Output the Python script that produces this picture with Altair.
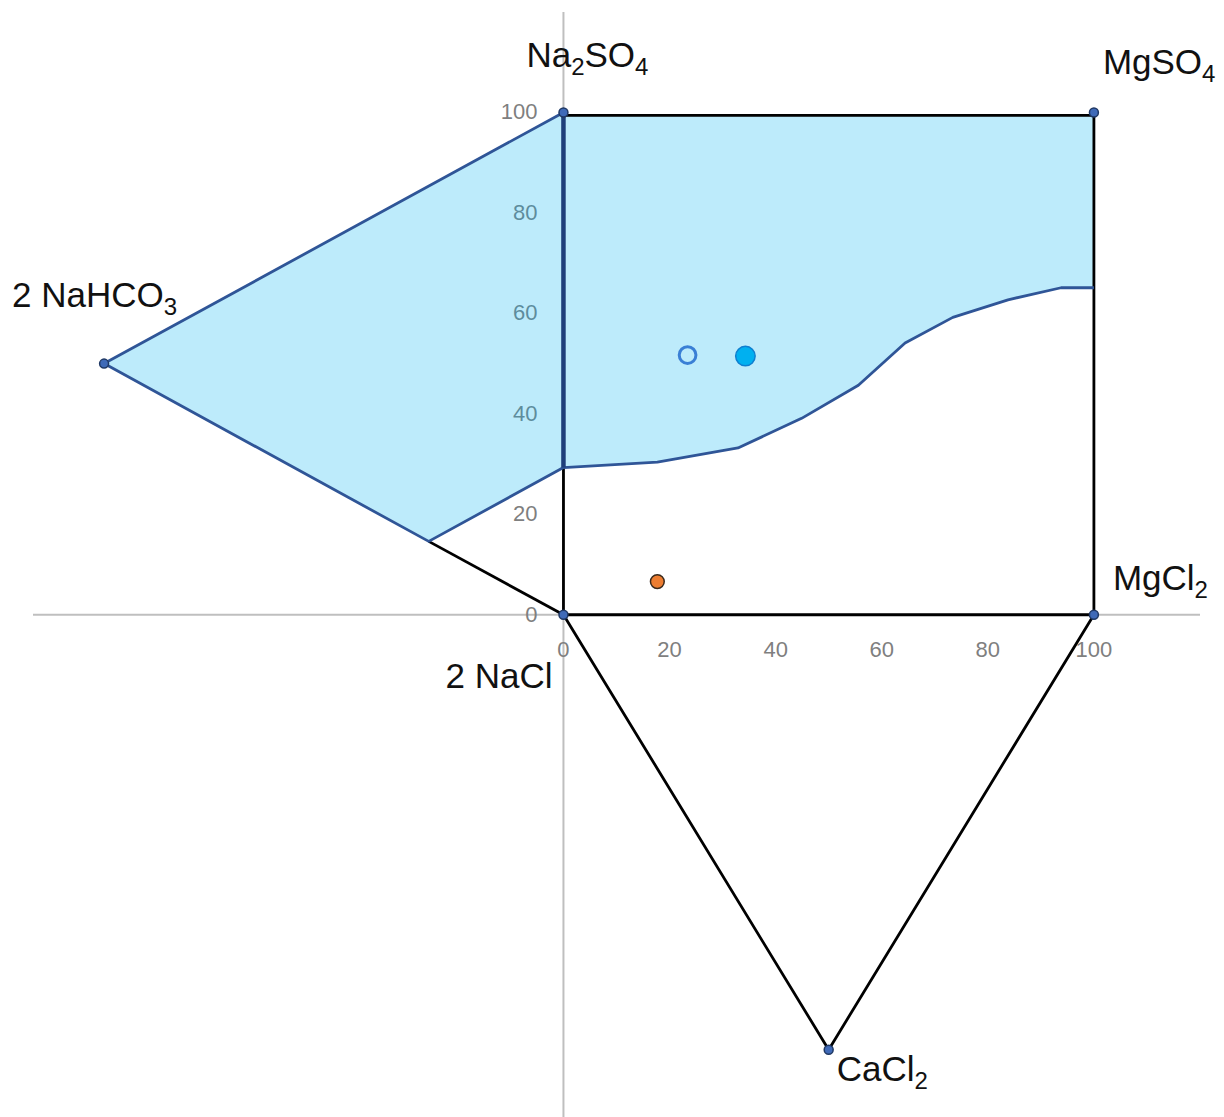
import altair as alt
import pandas as pd

# ---------------- data ----------------
# diagram vertices (salt end-members)
vert_names = ["Na2SO4", "MgSO4", "2 NaHCO3", "2 NaCl", "MgCl2", "CaCl2"]
vert_x = [0, 100, -86.6, 0, 100, 50]
vert_y = [100, 100, 50, 0, 0, -86.6]

# label text pieces: (text, is_subscript)
label_parts = {
    "Na2SO4": [("Na", False), ("2", True), ("SO", False), ("4", True)],
    "MgSO4": [("MgSO", False), ("4", True)],
    "2 NaHCO3": [("2 NaHCO", False), ("3", True)],
    "2 NaCl": [("2 NaCl", False)],
    "MgCl2": [("MgCl", False), ("2", True)],
    "CaCl2": [("CaCl", False), ("2", True)],
}

# lower boundary of the shaded field inside the square (x -> y)
bound_x = [0, 17.7, 32.9, 44.9, 55.6, 64.4, 73.4, 83.8, 93.8, 100]
bound_y = [29.3, 30.4, 33.2, 39.1, 45.7, 54.1, 59.2, 62.7, 65.1, 65.1]
top_y = 99.4

# shaded field in the left triangle
left_x = [-86.6, 0, 0, -25.4]
left_y = [50, 100, 29.3, 14.6]

# sample points
pt_x = [17.7, 23.4, 34.3]
pt_y = [6.6, 51.7, 51.5]
pt_kind = ["orange", "open", "blue"]

# tick labels
tick_vals = [0, 20, 40, 60, 80, 100]

# ---------------- tables ----------------
right_poly = [(0, top_y), (100, top_y)] + list(zip(bound_x[::-1], bound_y[::-1]))
left_poly = list(zip(left_x, left_y))
fill_rows = []
for name, poly in (("L", left_poly), ("R", right_poly)):
    for i, (a, b) in enumerate(poly):
        fill_rows.append({"x": a, "y": b, "i": i, "g": name})
fill_df = pd.DataFrame(fill_rows)

black_segs = {
    "square": [(0, 0), (100, 0), (100, top_y), (0, top_y), (0, 0)],
    "hco3_cl": [(left_x[3], left_y[3]), (vert_x[3], vert_y[3])],
    "tri": [(vert_x[3], vert_y[3]), (vert_x[5], vert_y[5]), (vert_x[4], vert_y[4])],
}
black_rows = []
for k, seg in black_segs.items():
    for i, (a, b) in enumerate(seg):
        black_rows.append({"x": a, "y": b, "i": i, "g": k})
black_df = pd.DataFrame(black_rows)

blue_line = list(zip(bound_x[::-1], bound_y[::-1])) + [(left_x[3], left_y[3]), (left_x[0], left_y[0]), (left_x[1], left_y[1])]
blue_df = pd.DataFrame([{"x": a, "y": b, "i": i, "g": "b"} for i, (a, b) in enumerate(blue_line)])
blue_axis_df = pd.DataFrame({"x": [0, 0], "y": [left_y[2], left_y[1]], "i": [0, 1], "g": ["v", "v"]})

vert_df = pd.DataFrame({"name": vert_names, "x": vert_x, "y": vert_y})
pts_df = pd.DataFrame({"x": pt_x, "y": pt_y, "kind": pt_kind})

xticks_df = pd.DataFrame({"x": tick_vals, "y": [0] * len(tick_vals), "t": [str(v) for v in tick_vals]})
yticks_df = pd.DataFrame({"x": [0] * len(tick_vals), "y": tick_vals, "t": [str(v) for v in tick_vals]})
axes_df = pd.DataFrame({"x": [-100, 0], "x2": [120, 0], "y": [0, -100], "y2": [0, 120]})

# ---------------- encodings ----------------
xs = alt.Scale(domain=[-100, 120], nice=False, zero=False)
ys = alt.Scale(domain=[-100, 120], nice=False, zero=False)
X = alt.X("x:Q", scale=xs, axis=None)
Y = alt.Y("y:Q", scale=ys, axis=None)

FONT = "Liberation Sans"

axes_layer = alt.Chart(axes_df).mark_rule(color="#bfbfbf", strokeWidth=2).encode(
    x=X, x2="x2:Q", y=Y, y2="y2:Q"
)

xtick_layer = alt.Chart(xticks_df).mark_text(
    font=FONT, fontSize=22, color="#7f7f7f", align="center", baseline="middle", dy=35
).encode(x=X, y=Y, text="t:N")
ytick_layer = alt.Chart(yticks_df).mark_text(
    font=FONT, fontSize=22, color="#7f7f7f", align="right", baseline="middle", dx=-26
).encode(x=X, y=Y, text="t:N")

fill_layer = alt.Chart(fill_df).mark_line(
    filled=True, color="#00B0F0", opacity=0.26
).encode(x=X, y=Y, order="i:Q", detail="g:N")

black_layer = alt.Chart(black_df).mark_line(
    color="#000000", strokeWidth=2.8, strokeJoin="round"
).encode(x=X, y=Y, order="i:Q", detail="g:N")

blue_layer = alt.Chart(blue_df).mark_line(
    color="#2F5597", strokeWidth=2.8, strokeJoin="round"
).encode(x=X, y=Y, order="i:Q", detail="g:N")
blue_axis_layer = alt.Chart(blue_axis_df).mark_line(
    color="#1F3F7A", strokeWidth=4.5
).encode(x=X, y=Y, order="i:Q", detail="g:N")

vert_layer = alt.Chart(vert_df).mark_point(
    shape="circle", filled=True, size=80, fill="#3F6AB8", stroke="#1F3864", strokeWidth=1.5, opacity=1
).encode(x=X, y=Y)

orange_layer = alt.Chart(pts_df).transform_filter("datum.kind == 'orange'").mark_point(
    shape="circle", filled=True, size=190, fill="#ED7D31", stroke="#3b2a1c", strokeWidth=1.5, opacity=1
).encode(x=X, y=Y)
open_layer = alt.Chart(pts_df).transform_filter("datum.kind == 'open'").mark_point(
    shape="circle", filled=False, size=280, stroke="#3A7FD5", strokeWidth=3, opacity=1
).encode(x=X, y=Y)
blue_pt_layer = alt.Chart(pts_df).transform_filter("datum.kind == 'blue'").mark_point(
    shape="circle", filled=True, size=380, fill="#00B0F0", stroke="#0F7FCF", strokeWidth=1.5, opacity=1
).encode(x=X, y=Y)

# ---------------- vertex labels with real subscripts ----------------
MAIN_SIZE = 35
SUB_SIZE = 24
SUB_DROP = 8
# Arial / Liberation Sans advance widths (em)
ADV = {"N": 0.722, "a": 0.556, "S": 0.667, "O": 0.778, "M": 0.833, "g": 0.556,
       "C": 0.722, "l": 0.222, "H": 0.722, " ": 0.278, "2": 0.556, "3": 0.556, "4": 0.556}

# label anchor offsets (pixels: left edge, baseline) relative to each vertex
label_offsets = {
    "Na2SO4": (-37, -45),
    "MgSO4": (9, -38),
    "2 NaHCO3": (-92, -57),
    "2 NaCl": (-118, 73),
    "MgCl2": (19, -25),
    "CaCl2": (8, 31),
}

label_layers = []
for nm, (ddx, ddy) in label_offsets.items():
    cursor = 0.0
    for txt, is_sub in label_parts[nm]:
        fs = SUB_SIZE if is_sub else MAIN_SIZE
        label_layers.append(
            alt.Chart(vert_df).transform_filter(alt.datum.name == nm).transform_calculate(
                piece=f"'{txt}'"
            ).mark_text(
                font=FONT, fontSize=fs, color="#111111", align="left", baseline="alphabetic",
                dx=ddx + cursor, dy=ddy + (SUB_DROP if is_sub else 0)
            ).encode(x=X, y=Y, text="piece:N")
        )
        cursor += sum(ADV.get(c, 0.6) for c in txt) * fs

chart = alt.layer(
    axes_layer, xtick_layer, ytick_layer, fill_layer, black_layer, blue_layer, blue_axis_layer,
    vert_layer, orange_layer, open_layer, blue_pt_layer, *label_layers
).properties(
    width=1167, height=1105,
    autosize=alt.AutoSizeParams(type="none"),
    padding={"left": 25, "top": 4, "right": 16, "bottom": 0},
).configure_view(stroke=None, clip=False)

chart.save("out.html", embed_options={"renderer": "svg", "actions": False})
